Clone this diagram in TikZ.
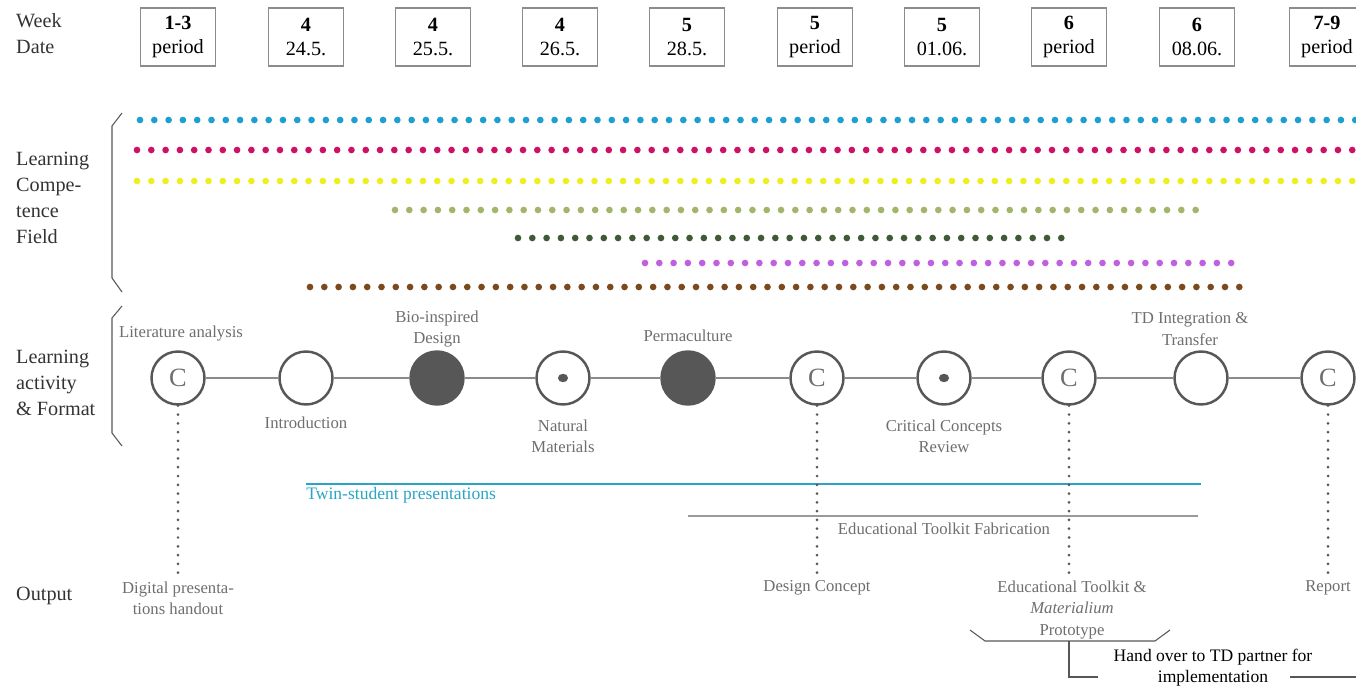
\documentclass[tikz,border=0pt]{standalone}
\usepackage{fontspec}
\setmainfont{Liberation Serif}
\usepackage{tikz}

\definecolor{labelblack}{HTML}{333333}
\definecolor{boxgrey}{HTML}{8C8C8C}
\definecolor{circgrey}{HTML}{575757}
\definecolor{notegrey}{HTML}{6E6E6E}
\definecolor{linkgrey}{HTML}{8A8A8A}
\definecolor{fieldcyan}{HTML}{1E9FCF}
\definecolor{fieldmagenta}{HTML}{CC1166}
\definecolor{fieldyellow}{HTML}{EEEE22}
\definecolor{fieldolive}{HTML}{A3B56A}
\definecolor{fielddkgreen}{HTML}{3F5A35}
\definecolor{fieldviolet}{HTML}{C060E0}
\definecolor{fieldbrown}{HTML}{7A4A1E}
\definecolor{twincyan}{HTML}{2AA5C5}
\definecolor{fabgrey}{HTML}{9A9A9A}

\begin{document}
\begin{tikzpicture}[x=0.02cm, y=-0.02cm,
  week/.style={draw=boxgrey, line width=0.8pt, minimum width=1.5cm, minimum height=1.16cm,
    align=center, inner sep=1pt, text=black, font=\fontsize{11.5}{14}\selectfont},
  side/.style={anchor=west, align=left, text=labelblack, font=\fontsize{11.5}{14.8}\selectfont},
  act/.style={circle, draw=circgrey, line width=1.4pt, minimum size=1.06cm, inner sep=0pt,
    fill=white, text=notegrey, font=\fontsize{15}{15}\selectfont},
  full/.style={act, fill=circgrey},
  dotact/.style={act, path picture={\fill[circgrey] (path picture bounding box.center) ellipse (2.9pt and 2.4pt);}},
  note/.style={text=notegrey, align=center, font=\fontsize{9.5}{12}\selectfont},
  compdots/.style={line width=3.8pt, line cap=round, dash pattern=on 0pt off 0.286cm},
  outdots/.style={draw=circgrey, line width=1.7pt, line cap=round, dash pattern=on 0pt off 5pt},
  bracket/.style={draw=circgrey, line width=0.6pt}]
\useasboundingbox (0,0) rectangle (1356,686);

% Week / Date row
\node[side] (wklab) at (10,34) {Week\\Date};
\node[week] (w1) at (178,37) {\textbf{1-3}\\period};
\node[week] (w2) at (306,37) {\textbf{4}\\24.5.};
\node[week] (w3) at (433,37) {\textbf{4}\\25.5.};
\node[week] (w4) at (560,37) {\textbf{4}\\26.5.};
\node[week] (w5) at (687,37) {\textbf{5}\\28.5.};
\node[week] (w6) at (815,37) {\textbf{5}\\period};
\node[week] (w7) at (942,37) {\textbf{5}\\01.06.};
\node[week] (w8) at (1069,37) {\textbf{6}\\period};
\node[week] (w9) at (1197,37) {\textbf{6}\\08.06.};
\node[week] (w10) at (1327,37) {\textbf{7-9}\\period};

% Learning competence field
\node[side] (complab) at (10,198) {Learning\\Compe-\\tence\\Field};
\draw[bracket] (122,113) -- (112,126) -- (112,278) -- (122,292);
\draw[compdots, fieldcyan] (140,120) -- (1362,120);
\draw[compdots, fieldmagenta] (137,150) -- (1362,150);
\draw[compdots, fieldyellow] (137,181) -- (1362,181);
\draw[compdots, fieldolive] (395,210) -- (1198,210);
\draw[compdots, fielddkgreen] (518,238) -- (1068,238);
\draw[compdots, fieldviolet] (645,263) -- (1240,263);
\draw[compdots, fieldbrown] (310,287) -- (1240,287);

% Learning activity & format
\node[side] (actlab) at (10,383) {Learning\\activity\\\& Format};
\draw[bracket] (122,306) -- (112,318) -- (112,433) -- (122,446);

\node[act] (a1) at (178,378) {C};
\node[act] (a2) at (306,378) {};
\node[full] (a3) at (437,378) {};
\node[dotact] (a4) at (563,378) {};
\node[full] (a5) at (688,378) {};
\node[act] (a6) at (817,378) {C};
\node[dotact] (a7) at (944,378) {};
\node[act] (a8) at (1069,378) {C};
\node[act] (a9) at (1201,378) {};
\node[act] (a10) at (1328,378) {C};
\foreach \i [count=\j from 2] in {1,...,9}
  \draw[linkgrey, line width=0.7pt] (a\i) -- (a\j);

\node[note] (litlab) at (181,334) {Literature analysis};
\node[note] (introlab) at (306,423) {Introduction};
\node[note] (biolab) at (437,329) {Bio-inspired\\Design};
\node[note] (natlab) at (563,436) {Natural\\Materials};
\node[note] (permlab) at (688,336) {Permaculture};
\node[note] (critlab) at (944,436) {Critical Concepts\\Review};
\node[note] (tdlab) at (1190,329) {TD Integration \&\\Transfer};

% Bars
\coordinate (twinA) at (306,484);
\coordinate (twinB) at (1201,484);
\draw[twincyan, line width=1.7pt] (twinA) -- (twinB);
\node[note, text=twincyan, anchor=north west, inner sep=0pt, font=\fontsize{10}{12}\selectfont] (twinlab) at (306,487) {Twin-student presentations};
\coordinate (fabA) at (688,516);
\coordinate (fabB) at (1198,516);
\draw[fabgrey, line width=1.7pt] (fabA) -- (fabB);
\node[note] (fablab) at (944,529) {Educational Toolkit Fabrication};

% Output
\node[side] (outlab) at (10,596) {Output};
\node[note] (o1) at (178,598) {Digital presenta-\\tions handout};
\node[note] (o2) at (817,588) {Design Concept};
\node[note] (o3) at (1072,610) {Educational Toolkit \&\\\textit{Materialium}\\Prototype};
\node[note] (o4) at (1328,588) {Report};
\draw[outdots] (a1) -- (a1 |- o1.north);
\draw[outdots] (a6) -- (a6 |- o2.north);
\draw[outdots] (a8) -- (a8 |- o3.north);
\draw[outdots] (a10) -- (a10 |- o4.north);

% Hand over
\draw[bracket] (970,630) -- (985,641) -- (1155,641) -- (1170,630);
\coordinate (hmid) at (1069,641);
\coordinate (hL) at (1098,677);
\coordinate (hR1) at (1290,677);
\coordinate (hR2) at (1362,677);
\node[align=center, text=black, font=\fontsize{10}{12}\selectfont] (hand) at (1213,668) {Hand over to TD partner for\\implementation};
\draw[bracket] (hmid) |- (hL);
\draw[bracket] (hR1) -- (hR2);
\end{tikzpicture}
\end{document}
